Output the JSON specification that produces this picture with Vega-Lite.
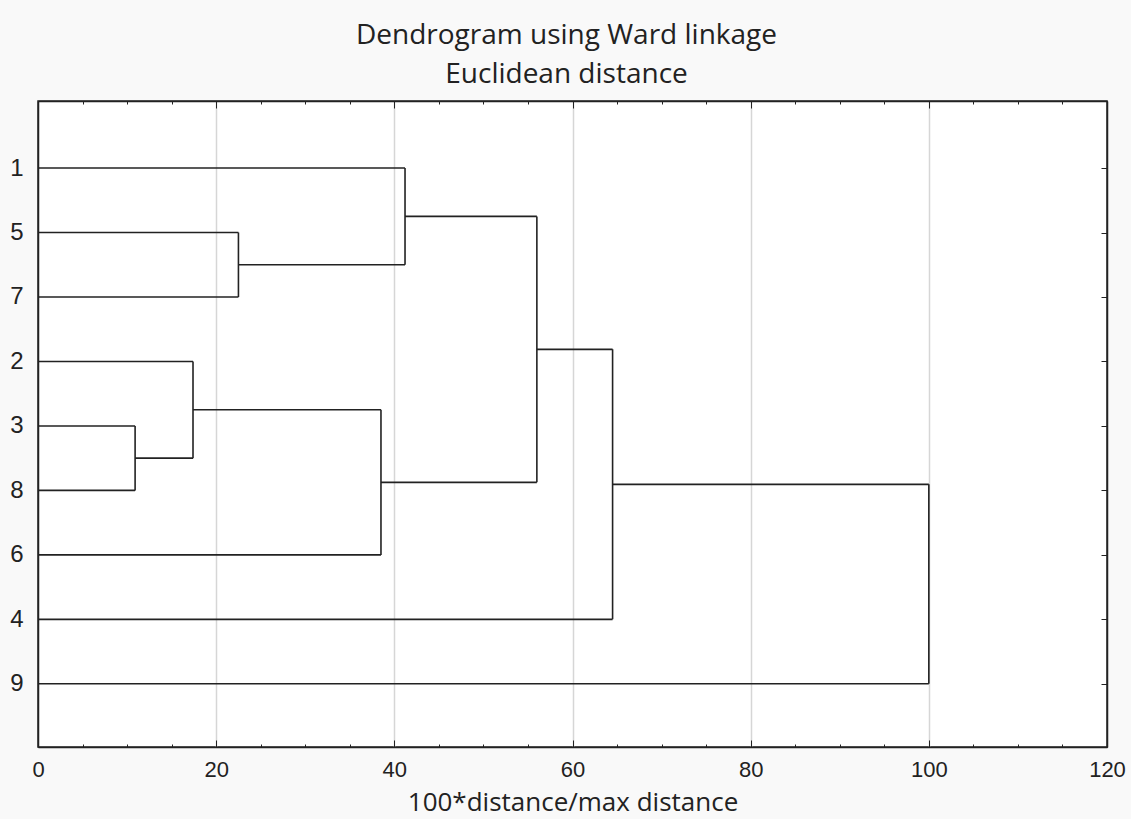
{
  "$schema": "https://vega.github.io/schema/vega-lite/v6.json",
  "autosize": {"type": "none"},
  "padding": {"left": 38, "top": 101, "right": 24, "bottom": 72},
  "width": 1069,
  "height": 646,
  "background": "#f9f9f9",
  "config": {
    "view": {"fill": "white", "stroke": "#222222", "strokeWidth": 1.5},
    "axis": {"domainColor": "#222222", "domainWidth": 1.5, "tickColor": "#222222", "labelColor": "#222222", "titleColor": "#222222"}
  },
  "title": {
    "text": ["Dendrogram using Ward linkage", "Euclidean distance"],
    "font": "Open Sans",
    "fontSize": 28,
    "fontWeight": "normal",
    "color": "#222222",
    "lineHeight": 39,
    "anchor": "middle",
    "frame": "group",
    "dx": -6,
    "offset": 12
  },
  "datasets": {
    "horizontal": [
      {"x": 0, "x2": 22.5, "y": 2},
      {"x": 0, "x2": 22.5, "y": 3},
      {"x": 0, "x2": 10.9, "y": 5},
      {"x": 0, "x2": 10.9, "y": 6},
      {"x": 0, "x2": 17.4, "y": 4},
      {"x": 10.9, "x2": 17.4, "y": 5.5},
      {"x": 17.4, "x2": 38.5, "y": 4.75},
      {"x": 0, "x2": 38.5, "y": 7},
      {"x": 0, "x2": 41.2, "y": 1},
      {"x": 22.5, "x2": 41.2, "y": 2.5},
      {"x": 41.2, "x2": 56, "y": 1.75},
      {"x": 38.5, "x2": 56, "y": 5.875},
      {"x": 56, "x2": 64.5, "y": 3.8125},
      {"x": 0, "x2": 64.5, "y": 8},
      {"x": 64.5, "x2": 100, "y": 5.90625},
      {"x": 0, "x2": 100, "y": 9}
    ],
    "vertical": [
      {"x": 22.5, "y": 2, "y2": 3},
      {"x": 10.9, "y": 5, "y2": 6},
      {"x": 17.4, "y": 4, "y2": 5.5},
      {"x": 38.5, "y": 4.75, "y2": 7},
      {"x": 41.2, "y": 1, "y2": 2.5},
      {"x": 56, "y": 1.75, "y2": 5.875},
      {"x": 64.5, "y": 3.8125, "y2": 8},
      {"x": 100, "y": 5.90625, "y2": 9}
    ]
  },
  "resolve": {"axis": {"x": "independent", "y": "independent"}},
  "layer": [
    {
      "data": {"name": "horizontal"},
      "mark": {"type": "rule", "color": "#222222", "strokeWidth": 1.6},
      "encoding": {
        "x": {
          "field": "x", "type": "quantitative",
          "scale": {"domain": [0, 120], "nice": false, "zero": false},
          "axis": {
            "orient": "bottom",
            "title": "100*distance/max distance",
            "titleFont": "Open Sans",
            "titleFontSize": 26,
            "titleFontWeight": "normal",
            "titlePadding": 9,
            "values": [0,5,10,15,20,25,30,35,40,45,50,55,60,65,70,75,80,85,90,95,100,105,110,115,120],
            "labelExpr": "datum.value % 20 == 0 ? datum.label : ''",
            "labelFont": "Liberation Sans",
            "labelFontSize": 22,
            "labelFlush": false,
            "labelPadding": 19,
            "tickSize": {"condition": {"test": "datum.value % 20 == 0", "value": -7}, "value": -3},
            "grid": true,
            "gridColor": "#d6d6d6",
            "gridWidth": 1.5,
            "gridOpacity": {"condition": {"test": "datum.value % 20 == 0 && datum.value > 0 && datum.value < 120", "value": 1}, "value": 0}
          }
        },
        "x2": {"field": "x2"},
        "y": {
          "field": "y", "type": "quantitative",
          "scale": {"domain": [-0.04, 9.98], "nice": false, "zero": false, "reverse": true},
          "axis": {
            "orient": "left",
            "title": null,
            "values": [1,2,3,4,5,6,7,8,9],
            "labelExpr": "['','1','5','7','2','3','8','6','4','9'][datum.value]",
            "labelFont": "Liberation Sans",
            "labelFontSize": 24,
            "labelPadding": 15,
            "ticks": false,
            "grid": false
          }
        }
      }
    },
    {
      "data": {"name": "vertical"},
      "mark": {"type": "rule", "color": "#222222", "strokeWidth": 1.6},
      "encoding": {
        "x": {
          "field": "x", "type": "quantitative",
          "scale": {"domain": [0, 120], "nice": false, "zero": false},
          "axis": {
            "orient": "top",
            "title": null,
            "values": [0,5,10,15,20,25,30,35,40,45,50,55,60,65,70,75,80,85,90,95,100,105,110,115,120],
            "labels": false,
            "tickSize": {"condition": {"test": "datum.value % 20 == 0", "value": -7}, "value": -3},
            "grid": false
          }
        },
        "y": {
          "field": "y", "type": "quantitative",
          "scale": {"domain": [-0.04, 9.98], "nice": false, "zero": false, "reverse": true},
          "axis": {
            "orient": "right",
            "title": null,
            "values": [1,2,3,4,5,6,7,8,9],
            "labels": false,
            "tickSize": -6,
            "grid": false
          }
        },
        "y2": {"field": "y2"}
      }
    }
  ]
}
